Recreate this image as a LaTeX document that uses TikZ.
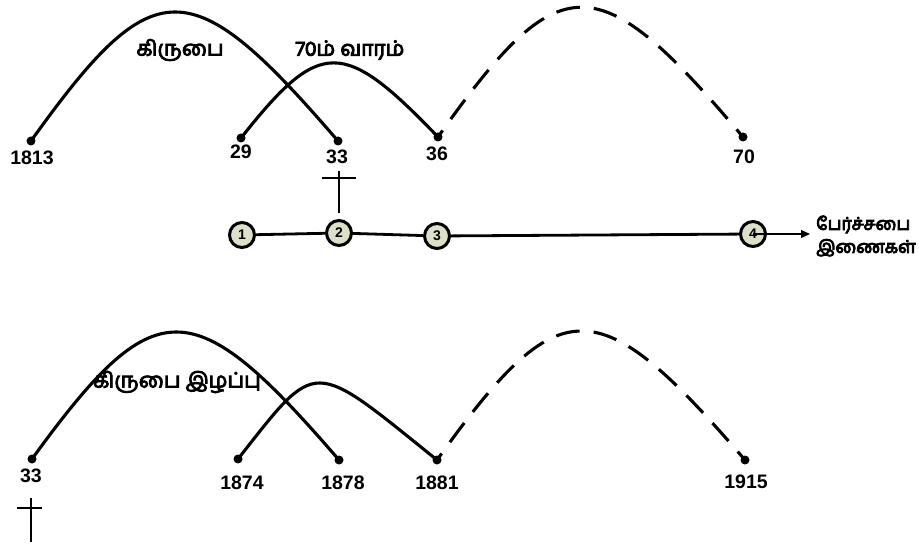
\documentclass[tikz,border=0pt]{standalone}
\usepackage{fontspec}
\setmainfont{Liberation Sans}
\newfontfamily\tamil[Script=Tamil]{Hind Madurai}
\newcommand\tbold[1]{\special{pdf:literal 2 Tr 0.9 w}#1\special{pdf:literal 0 Tr}}
\usetikzlibrary{arrows.meta}
\definecolor{stopfill}{RGB}{221,224,200}
\begin{document}
\begin{tikzpicture}[x=1pt,y=-1pt,
  enddot/.style={circle,fill=black,inner sep=0pt,minimum size=9pt},
  arcline/.style={line width=3.1pt},
  darcline/.style={arcline,dash pattern=on 24pt off 14pt,dash phase=16pt},
  numtxt/.style={font=\fontsize{19.5}{22}\selectfont\bfseries,inner sep=0pt},
  tamtxt/.style={font=\tamil\fontsize{21}{24}\selectfont,inner sep=0pt},
  stopc/.style={circle,draw,line width=3pt,fill=stopfill,minimum size=25pt,inner sep=0pt,font=\fontsize{14}{16}\selectfont\bfseries},
  tline/.style={line width=2.8pt},
  crossline/.style={line width=2.2pt}]
\useasboundingbox (0,0) rectangle (919,545);

% ---- top arcs ----
\node[enddot] (d1813) at (31,141) {};
\node[enddot] (d29) at (241,138) {};
\node[enddot] (d33) at (338,141) {};
\node[enddot] (d36) at (438,137) {};
\node[enddot] (d70) at (743,137) {};
\draw[arcline] (d1813.center) .. controls (154,-31) and (190,-31) .. (d33.center);
\draw[arcline] (d29.center) .. controls (320,38) and (343,38) .. (d36.center);
\draw[darcline] (d36.center) .. controls (560,-36) and (597,-36) .. (d70.center);

\node[numtxt] (t1813) at (32,158) {1813};
\node[numtxt] (t29) at (241,152) {29};
\node[numtxt] (t33) at (337,157) {33};
\node[numtxt] (t36) at (437,154) {36};
\node[numtxt] (t70) at (744,157) {70};

\node[tamtxt] (grace) at (180,50) {\tbold{கிருபை}};
\node[tamtxt] (week) at (350,50) {\tbold{70ம் வாரம்}};

% cross under 33
\draw[crossline] (339,171) -- (339,213);
\draw[crossline] (322,178) -- (356,178);

% ---- timeline ----
\node[stopc] (c1) at (242,235) {1};
\node[stopc] (c2) at (339,233) {2};
\node[stopc] (c3) at (437,236) {3};
\node[stopc] (c4) at (753,234) {4};
\draw[tline] (c1) -- (c2);
\draw[tline] (c2) -- (c3);
\draw[tline] (c3) -- (c4);
\coordinate (aend) at (810,234);
\draw[line width=1.4pt,-{Triangle[length=9pt,width=8pt]}] (c4.center) -- (aend);
\node[font=\tamil\fontsize{17.5}{23}\selectfont,align=left,anchor=west,inner sep=0pt] (pair) at (816,236) {\tbold{பேர்ச்சபை}\\\tbold{இணைகள்}};

% ---- bottom arcs ----
\node[enddot] (b33) at (32,459) {};
\node[enddot] (b1874) at (238,459) {};
\node[enddot] (b1878) at (339,460) {};
\node[enddot] (b1881) at (437,460) {};
\node[enddot] (b1915) at (745,460) {};
\draw[arcline] (b33.center) .. controls (155,289.5) and (192,289.5) .. (b1878.center);
\draw[arcline] (b1874.center) .. controls (318,357.5) and (310,357.5) .. (b1881.center);
\draw[darcline] (b1881.center) .. controls (560,288) and (597,288) .. (b1915.center);

\node[numtxt] (u33) at (31,476) {33};
\node[numtxt] (u1874) at (242,483) {1874};
\node[numtxt] (u1878) at (343,483) {1878};
\node[numtxt] (u1881) at (437,483) {1881};
\node[numtxt] (u1915) at (746,482) {1915};

\node[tamtxt] (loss) at (177,382) {\tbold{கிருபை இழப்பு}};

% cross under 33 (bottom)
\draw[crossline] (31,498) -- (31,542);
\draw[crossline] (17,508) -- (42,508);
\end{tikzpicture}
\end{document}
